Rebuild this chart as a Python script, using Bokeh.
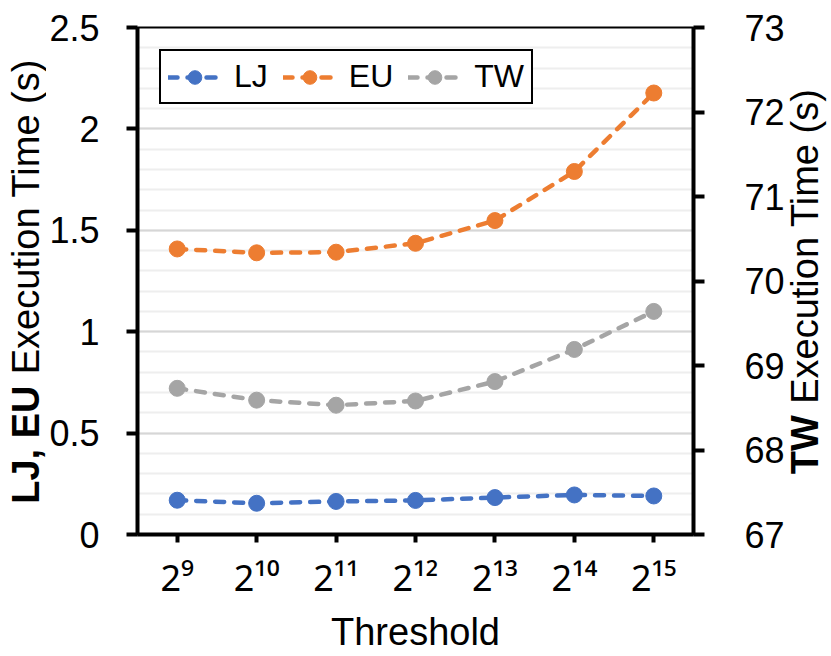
import math
from bokeh.plotting import figure
from bokeh.layouts import row
from bokeh.models import (Range1d, LinearAxis, SingleIntervalTicker, Label,
                          FactorRange, CustomJSTickFormatter)
from bokeh.embed import file_html
from bokeh.resources import INLINE

# ---- data ----
thresholds = ["2⁹", "2¹⁰", "2¹¹", "2¹²", "2¹³", "2¹⁴", "2¹⁵"]
lj_time = [0.169, 0.154, 0.163, 0.168, 0.182, 0.195, 0.190]
eu_time = [1.408, 1.389, 1.392, 1.436, 1.548, 1.790, 2.177]
tw_time = [68.73, 68.59, 68.53, 68.58, 68.81, 69.19, 69.64]
series_names = ["LJ", "EU", "TW"]
series_colors = ["#4472C4", "#ED7D31", "#A5A5A5"]
left_title = ["LJ, EU", "Execution Time (s)"]
right_title = ["TW", "Execution Time (s)"]
x_title = "Threshold"

FONT = "Liberation Sans"
XTICK_FONT = "Noto Sans"
TOTAL_W, TOTAL_H = 831, 656
LW = 46                               # left text panel
BL, BR, BT = 88, 92, 27
FW, FH = 561, 507
MW = BL + FW + BR                     # main figure width
RW = TOTAL_W - LW - MW                # right text panel
BB = TOTAL_H - BT - FH

p = figure(width=MW, height=TOTAL_H, x_range=FactorRange(*thresholds),
           y_range=Range1d(0, 2.5), output_backend="svg", toolbar_location=None,
           min_border_left=BL, min_border_right=BR, min_border_top=BT,
           min_border_bottom=BB)
p.extra_y_ranges = {"tw": Range1d(67, 73)}
p.background_fill_color = "white"
p.border_fill_color = "white"
p.outline_line_color = "black"
p.outline_line_width = 2

# grid
p.xgrid.grid_line_color = None
p.ygrid.grid_line_color = "#d6d6d6"
p.ygrid.grid_line_width = 2
p.ygrid.minor_grid_line_color = "#eeeeee"
p.ygrid.minor_grid_line_width = 2

fmt = CustomJSTickFormatter(code="return String(Math.round(tick*10)/10);")

ya = p.yaxis[0]
ya.ticker = SingleIntervalTicker(interval=0.5, num_minor_ticks=5)
ya.formatter = fmt
ra = LinearAxis(y_range_name="tw",
                ticker=SingleIntervalTicker(interval=1, num_minor_ticks=0),
                formatter=fmt)
p.add_layout(ra, "right")

for ax in (ya, ra):
    ax.axis_line_width = 4
    ax.axis_line_color = "black"
    ax.major_tick_line_width = 4
    ax.major_tick_line_color = "black"
    ax.major_tick_out = 11
    ax.major_tick_in = 0
    ax.minor_tick_line_color = None
    ax.major_label_text_font = FONT
    ax.major_label_text_font_size = "36px"
    ax.major_label_text_color = "black"
ya.major_label_standoff = 27
ra.major_label_standoff = 40

xa = p.xaxis[0]
xa.axis_line_width = 4
xa.axis_line_color = "black"
xa.major_tick_line_width = 4
xa.major_tick_line_color = "black"
xa.major_tick_out = 8
xa.major_tick_in = 0
xa.major_label_text_font = XTICK_FONT
xa.major_label_text_font_size = "36px"
xa.major_label_text_color = "black"
xa.major_label_standoff = 10
xa.axis_label = x_title
xa.axis_label_text_font = FONT
xa.axis_label_text_font_size = "38px"
xa.axis_label_text_font_style = "normal"
xa.axis_label_text_color = "black"
xa.axis_label_standoff = 6

# series
for name, vals, col, rng in zip(series_names, [lj_time, eu_time, tw_time],
                                series_colors, ["default", "default", "tw"]):
    kw = {} if rng == "default" else {"y_range_name": rng}
    p.line(thresholds, vals, line_color=col, line_width=4.5, line_dash="9 10",
           line_cap="round", legend_label=name, **kw)
    p.scatter(thresholds, vals, size=16, fill_color=col, line_color=col,
              legend_label=name, **kw)

lg = p.legend[0]
lg.location = "top_left"
lg.orientation = "horizontal"
lg.margin = 22
lg.padding = 7
lg.spacing = 15
lg.label_standoff = 13
lg.glyph_width = 53
lg.glyph_height = 34
lg.label_height = 34
lg.label_text_font = FONT
lg.label_text_font_size = "32px"
lg.label_text_color = "black"
lg.border_line_color = "black"
lg.border_line_alpha = 1.0
lg.border_line_width = 2
lg.background_fill_alpha = 1.0
lg.background_fill_color = "white"


# side panels carrying the mixed bold/regular axis titles.
# The row aligns their frames with the main frame (page y BT .. BT+FH),
# so the y range is chosen to keep y = TOTAL_H - page_y inside that frame.
def side_panel(width):
    s = figure(width=width, height=TOTAL_H, x_range=Range1d(0, width),
               y_range=Range1d(TOTAL_H - (BT + FH), TOTAL_H - BT),
               output_backend="svg", toolbar_location=None,
               x_axis_type=None, y_axis_type=None,
               min_border=0, min_border_left=0, min_border_right=0,
               min_border_top=0, min_border_bottom=0)
    s.outline_line_color = None
    s.background_fill_color = "white"
    s.border_fill_color = "white"
    return s

FS = 38
center_y = BT + FH / 2
sp_w = 0.278 * FS
reg_w = 8.335 * FS


def put_title(s, parts, bold_w, mid_x):
    total = bold_w + sp_w + reg_w
    start = center_y + total / 2
    bold_c = start - bold_w / 2
    reg_c = start - bold_w - sp_w - reg_w / 2
    for txt, yc, style in [(parts[0], bold_c, "bold"), (parts[1], reg_c, "normal")]:
        s.add_layout(Label(x=mid_x, y=TOTAL_H - yc, text=txt,
                           angle=math.pi / 2, text_align="center",
                           text_baseline="middle", text_font=FONT,
                           text_font_size=f"{FS}px", text_font_style=style,
                           text_color="black"))


left = side_panel(LW)
put_title(left, left_title, 3.112 * FS, 25)
right = side_panel(RW)
put_title(right, right_title, 1.555 * FS, 804 - (LW + MW))

layout = row(left, p, right)
open("out.html", "w").write(file_html(layout, INLINE))
